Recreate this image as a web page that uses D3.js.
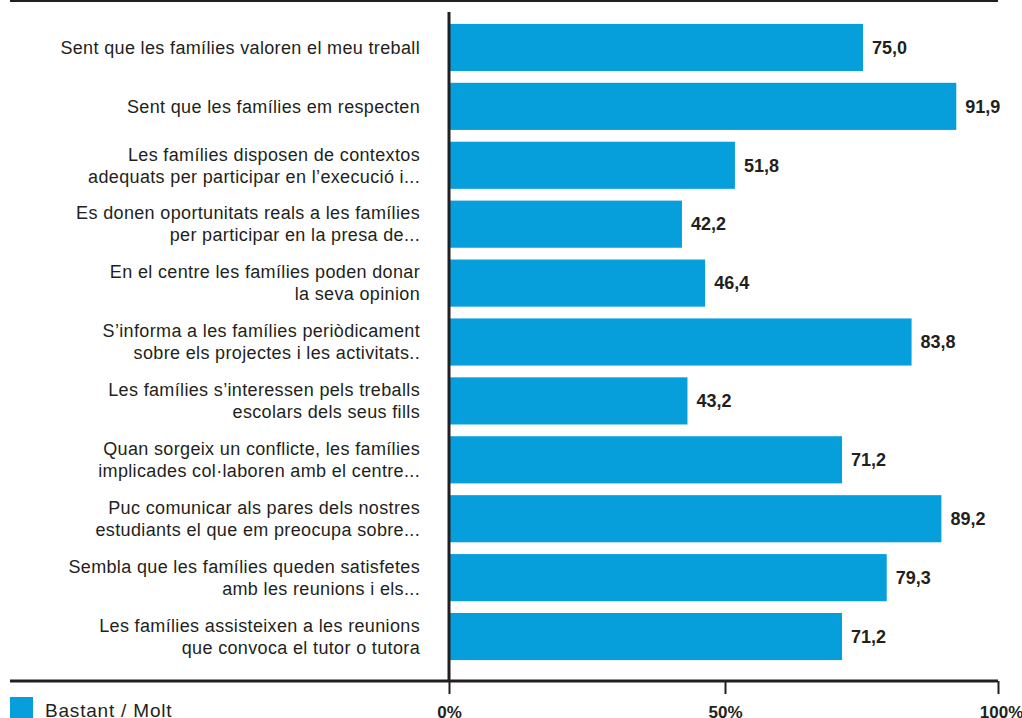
<!DOCTYPE html>
<html>
<head>
<meta charset="utf-8">
<script src="https://cdn.jsdelivr.net/npm/d3@7"></script>
<style>
  body { margin: 0; background: #fff; }
  svg { font-family: "Liberation Sans", Arial, sans-serif; }
</style>
</head>
<body>
<svg width="1022" height="718"></svg>
<script>
const categories = [
    ["Sent que les famílies valoren el meu treball"],
    ["Sent que les famílies em respecten"],
    ["Les famílies disposen de contextos", "adequats per participar en l’execució i..."],
    ["Es donen oportunitats reals a les famílies", "per participar en la presa de..."],
    ["En el centre les famílies poden donar", "la seva opinion"],
    ["S’informa a les famílies periòdicament", "sobre els projectes i les activitats.."],
    ["Les famílies s’interessen pels treballs", "escolars dels seus fills"],
    ["Quan sorgeix un conflicte, les famílies", "implicades col·laboren amb el centre..."],
    ["Puc comunicar als pares dels nostres", "estudiants el que em preocupa sobre..."],
    ["Sembla que les famílies queden satisfetes", "amb les reunions i els..."],
    ["Les famílies assisteixen a les reunions", "que convoca el tutor o tutora"]
]
const values = [75.0, 91.9, 51.8, 42.2, 46.4, 83.8, 43.2, 71.2, 89.2, 79.3, 71.2]
const tickValues = [0, 50, 100]
const seriesName = "Bastant / Molt"

const blue = "#069fdc"
const ink = "#231f20"

const svg = d3.select("svg")
const idx = d3.range(values.length)

const x = d3.scaleLinear().domain([0, 100]).range([449, 1001])
const y = d3.scaleBand().domain(idx).range([18, 666])
    .paddingInner(0.2).paddingOuter(0.1)

// top rule
svg.append("line")
    .attr("x1", 10).attr("x2", 998)
    .attr("y1", 1).attr("y2", 1)
    .attr("stroke", ink).attr("stroke-width", 2)

// bars
svg.append("g")
    .selectAll("rect")
    .data(idx)
    .join("rect")
    .attr("x", x(0))
    .attr("y", i => y(i))
    .attr("width", i => x(values[i]) - x(0))
    .attr("height", y.bandwidth())
    .attr("fill", blue)

// value labels
svg.append("g")
    .selectAll("text")
    .data(idx)
    .join("text")
    .attr("x", i => x(values[i]) + 9)
    .attr("y", i => y(i) + y.bandwidth() / 2)
    .attr("dy", "0.35em")
    .attr("font-size", 18)
    .attr("font-weight", "bold")
    .attr("fill", ink)
    .text(i => d3.format(".1f")(values[i]).replace(".", ","))

// category labels
const lab = svg.append("g")
    .selectAll("text")
    .data(idx)
    .join("text")
    .attr("text-anchor", "end")
    .attr("font-size", 18)
    .attr("letter-spacing", 0.35)
    .attr("fill", ink)
    .attr("transform", i => `translate(420,${y(i) + y.bandwidth() / 2})`)

lab.selectAll("tspan")
    .data(i => categories[i].map((t, k) => ({t, k, n: categories[i].length})))
    .join("tspan")
    .attr("x", 0)
    .attr("y", d => (d.k - (d.n - 1) / 2) * 22)
    .attr("dy", "0.35em")
    .text(d => d.t)

// vertical axis line
svg.append("line")
    .attr("x1", x(0)).attr("x2", x(0))
    .attr("y1", 12).attr("y2", 681)
    .attr("stroke", ink).attr("stroke-width", 3)

// bottom axis
const xAxis = d3.axisBottom(x)
    .tickValues(tickValues)
    .tickSize(13)
    .tickPadding(12)
    .tickFormat(d => d + "%")

const ax = svg.append("g")
    .attr("transform", "translate(0,681)")
    .call(xAxis)

ax.select(".domain").remove()
ax.insert("line", ":first-child")
    .attr("x1", 10).attr("x2", 998)
    .attr("stroke", ink).attr("stroke-width", 3)
ax.selectAll(".tick line").attr("stroke", ink).attr("stroke-width", 2)
ax.selectAll(".tick text")
    .attr("fill", ink)
    .attr("font-size", 17)
    .attr("font-weight", "bold")
    .attr("font-family", "\"Liberation Sans\", Arial, sans-serif")
ax.selectAll(".tick").filter(d => d === 100).select("line")
    .attr("transform", "translate(-3,0)")

// legend
svg.append("rect")
    .attr("x", 10).attr("y", 697)
    .attr("width", 23).attr("height", 22)
    .attr("fill", blue)
svg.append("text")
    .attr("x", 45).attr("y", 717)
    .attr("font-size", 19)
    .attr("letter-spacing", 0.8)
    .attr("fill", ink)
    .text(seriesName)
</script>
</body>
</html>
